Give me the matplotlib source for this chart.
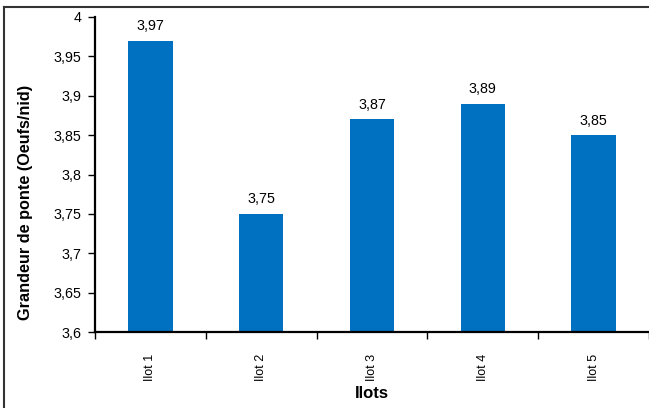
import matplotlib
matplotlib.use("Agg")
import matplotlib.pyplot as plt
from matplotlib.lines import Line2D
from matplotlib.ticker import FixedLocator, FuncFormatter
import numpy as np

categories = ["Ilot 1", "Ilot 2", "Ilot 3", "Ilot 4", "Ilot 5"]
values = [3.97, 3.75, 3.87, 3.89, 3.85]
y_ticks = [3.6, 3.65, 3.7, 3.75, 3.8, 3.85, 3.9, 3.95, 4.0]

plt.rcParams["font.family"] = ["Liberation Sans", "DejaVu Sans"]

W, H = 649, 408
fig = plt.figure(figsize=(W / 100, H / 100), dpi=100)
ax = fig.add_axes([95 / W, 1 - 332 / H, (649 - 95) / W, (332 - 17) / H])

x = np.arange(len(categories))
ax.bar(x, values, width=0.4, color="#0070C0", bottom=0)

def fr(v, _=None):
    s = f"{v:.2f}".rstrip("0").rstrip(".")
    return s.replace(".", ",")

for xi, v in zip(x, values):
    ax.text(xi, v + 0.0095, f"{v:.2f}".replace(".", ","), ha="center", va="bottom",
            fontsize=10.3, color="black")

ax.set_ylim(3.6, 4.0)
ax.set_xlim(-0.5, len(categories) - 0.5)
ax.yaxis.set_major_locator(FixedLocator(y_ticks))
ax.yaxis.set_major_formatter(FuncFormatter(fr))

ax.set_xticks(x)
ax.set_xticklabels(categories, rotation=90, fontsize=9)
ax.xaxis.set_minor_locator(FixedLocator(np.arange(-0.5, len(categories), 1.0)))
ax.tick_params(axis="x", which="major", length=0, pad=16)
ax.tick_params(axis="x", which="minor", length=5, width=1, direction="out")
ax.tick_params(axis="y", length=5, width=1, direction="out", labelsize=10.3, pad=5)

for s in ["top", "right"]:
    ax.spines[s].set_visible(False)
for s in ["left", "bottom"]:
    ax.spines[s].set_linewidth(1.6)

ax.set_ylabel("Grandeur de ponte (Oeufs/nid)", fontsize=11.7, fontweight="bold")
ax.yaxis.set_label_coords(-0.126, 0.41)
ax.set_xlabel("Ilots", fontsize=12, fontweight="bold")
ax.xaxis.set_label_coords(0.5, -0.194)
ax.xaxis.label.set_va("center")
ax.yaxis.label.set_va("center")

# outer frame
fig.add_artist(Line2D([4 / W, 4 / W], [0, 1 - 7 / H], transform=fig.transFigure,
                      color="#333333", linewidth=1.5))
fig.add_artist(Line2D([4 / W, 1], [1 - 7 / H, 1 - 7 / H], transform=fig.transFigure,
                      color="#333333", linewidth=1.5))

fig.savefig("out.png", dpi=100)
